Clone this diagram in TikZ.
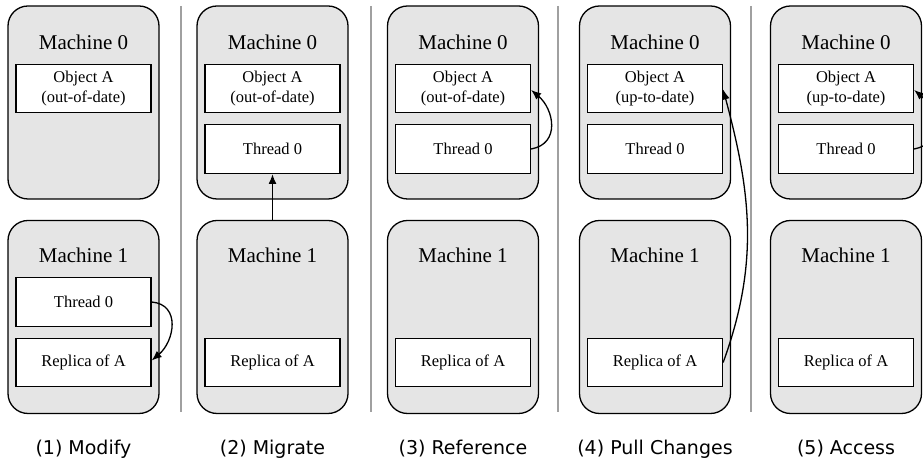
\documentclass[tikz,border=0pt]{standalone}
\usepackage{fontspec}
\setmainfont{Liberation Serif}
\newfontfamily\capfont{DejaVu Sans}
\usetikzlibrary{arrows.meta}
\definecolor{machfill}{RGB}{229,229,229}
\definecolor{sepgray}{RGB}{160,160,160}
\tikzset{
  machine/.style={draw=black, line width=1.3pt, fill=machfill, rounded corners=20pt,
    minimum width=151pt, minimum height=193pt, inner sep=0pt},
  itembox/.style={draw=black, line width=1.3pt, fill=white,
    minimum width=135pt, minimum height=48.5pt, inner sep=0pt, align=center,
    font=\fontsize{16.5}{20}\selectfont},
  mlabel/.style={font=\fontsize{21}{24}\selectfont, inner sep=0pt},
  caption/.style={font=\capfont\fontsize{19}{22}\selectfont, inner sep=0pt},
  sep/.style={draw=sepgray, line width=1.5pt},
  arr/.style={draw=black, line width=1.3pt, -{Latex[length=10pt,width=8pt]}},
  thickarr/.style={arr, line width=1.8pt},
}
\begin{document}
\begin{tikzpicture}[x=1pt,y=1pt]
\useasboundingbox (0,0) rectangle (923,462);
% separators
\foreach \sx/\nm in {181/s1,371/s2,558/s3,751/s4}{
  \coordinate (\nm t) at (\sx,456);
  \coordinate (\nm b) at (\sx,50);
  \draw[sep] (\nm t) -- (\nm b);
}
% ---------- Panel 1 ----------
\node[machine] (p1m0) at (83.5,359.5) {};
\node[mlabel] (p1m0l) at (83.5,420) {Machine 0};
\node[itembox] (p1obj) at (83.5,373.5) {Object A\\(out-of-date)};
\node[machine] (p1m1) at (83.5,145) {};
\node[mlabel] (p1m1l) at (83.5,207) {Machine 1};
\node[itembox] (p1thr) at (83.5,160) {Thread 0};
\node[itembox] (p1rep) at (83.5,99.5) {Replica of A};
\node[caption] (p1cap) at (83.5,13) {(1) Modify};
\draw[arr] (p1thr.east) to[out=-5,in=40,looseness=1.3] ([yshift=2pt]p1rep.east);
% ---------- Panel 2 ----------
\node[machine] (p2m0) at (272.5,359.5) {};
\node[mlabel] (p2m0l) at (272.5,420) {Machine 0};
\node[itembox] (p2obj) at (272.5,373.5) {Object A\\(out-of-date)};
\node[itembox] (p2thr) at (272.5,313) {Thread 0};
\node[machine] (p2m1) at (272.5,145) {};
\node[mlabel] (p2m1l) at (272.5,207) {Machine 1};
\node[itembox] (p2rep) at (272.5,99.5) {Replica of A};
\node[caption] (p2cap) at (272.5,13) {(2) Migrate};
\draw[thickarr] (p2m1.north) -- (p2thr.south);
% ---------- Panel 3 ----------
\node[machine] (p3m0) at (463,359.5) {};
\node[mlabel] (p3m0l) at (463,420) {Machine 0};
\node[itembox] (p3obj) at (463,373.5) {Object A\\(out-of-date)};
\node[itembox] (p3thr) at (463,313) {Thread 0};
\node[machine] (p3m1) at (463,145) {};
\node[mlabel] (p3m1l) at (463,207) {Machine 1};
\node[itembox] (p3rep) at (463,99.5) {Replica of A};
\node[caption] (p3cap) at (463,13) {(3) Reference};
\draw[arr] (p3thr.east) to[out=10,in=-40,looseness=1.3] ([yshift=-1.5pt]p3obj.east);
% ---------- Panel 4 ----------
\node[machine] (p4m0) at (655,359.5) {};
\node[mlabel] (p4m0l) at (655,420) {Machine 0};
\node[itembox] (p4obj) at (655,373.5) {Object A\\(up-to-date)};
\node[itembox] (p4thr) at (655,313) {Thread 0};
\node[machine] (p4m1) at (655,145) {};
\node[mlabel] (p4m1l) at (655,207) {Machine 1};
\node[itembox] (p4rep) at (655,99.5) {Replica of A};
\node[caption] (p4cap) at (655,13) {(4) Pull Changes};
\draw[arr] (p4rep.east) to[out=70,in=-75] ([yshift=-1pt]p4obj.east);
% ---------- Panel 5 ----------
\node[machine] (p5m0) at (846,359.5) {};
\node[mlabel] (p5m0l) at (846,420) {Machine 0};
\node[itembox] (p5obj) at (846,373.5) {Object A\\(up-to-date)};
\node[itembox] (p5thr) at (846,313) {Thread 0};
\node[machine] (p5m1) at (846,145) {};
\node[mlabel] (p5m1l) at (846,207) {Machine 1};
\node[itembox] (p5rep) at (846,99.5) {Replica of A};
\node[caption] (p5cap) at (846,13) {(5) Access};
\draw[arr] (p5thr.east) to[out=10,in=-40,looseness=1.3] ([yshift=-1.5pt]p5obj.east);
\end{tikzpicture}
\end{document}
